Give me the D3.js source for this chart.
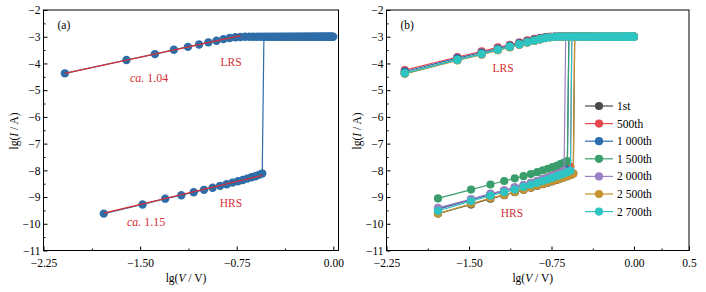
<!DOCTYPE html>
<html lang="en">
<head>
    <meta charset="UTF-8">
    <title>lg I vs lg V</title>
    <script src="https://cdn.jsdelivr.net/npm/d3@7/dist/d3.min.js"></script>
    <style>
        body { margin: 0; background: #fff; }
        text { font-family: "Liberation Serif", "DejaVu Serif", serif; }
        .axis path, .axis line { stroke: #000; }
    </style>
</head>
<body>
    <script>
        // lg V of the high resistance sweep points
        var hrsV = [-1.782, -1.481, -1.305, -1.180, -1.084, -1.004, -0.937, -0.879, -0.828,
                    -0.783, -0.741, -0.703, -0.669, -0.636, -0.606, -0.578, -0.552];

        // lg V of the low resistance sweep points
        var lrsV = [-2.084, -1.606, -1.385, -1.238, -1.129, -1.042, -0.970, -0.907, -0.853, -0.805,
                    -0.761, -0.722, -0.686, -0.652, -0.621, -0.592, -0.565, -0.539, -0.515, -0.493,
                    -0.471, -0.450, -0.430, -0.411, -0.393, -0.376, -0.359, -0.343, -0.328, -0.313,
                    -0.298, -0.284, -0.271, -0.257, -0.245, -0.232, -0.220, -0.208, -0.197, -0.186,
                    -0.175, -0.164, -0.154, -0.144, -0.134, -0.125, -0.115, -0.106, -0.097, -0.088,
                    -0.079, -0.071, -0.062, -0.054, -0.046, -0.038, -0.030, -0.023, -0.015, -0.008, -0.001];

        // compliance level reached by every LRS curve
        var compliance = -3;

        var cycles = ["1st", "500th", "1 000th", "1 500th", "2 000th", "2 500th", "2 700th"];
        var colors = ["#4a4a4a", "#e8474e", "#2c6db2", "#3a9e6c", "#9a80c4", "#c8922e", "#2ec4c2"];

        // lg I of the HRS branch (one value per hrsV point, until the set jump)
        var hrs1st  = [-9.62, -9.28, -9.06, -8.93, -8.82, -8.73, -8.65, -8.58, -8.52, -8.46, -8.41, -8.36, -8.31, -8.26, -8.22, -8.17, -8.12];
        var hrs500  = [-9.45, -9.10, -8.90, -8.77, -8.66, -8.57, -8.48, -8.40, -8.33, -8.26, -8.19, -8.13, -8.07, -8.01, -7.94, -7.87];
        var hrs1000 = [-9.45, -9.10, -8.90, -8.76, -8.65, -8.56, -8.48, -8.41, -8.34, -8.28, -8.22, -8.16, -8.10, -8.04, -7.98];
        var hrs1500 = [-9.05, -8.72, -8.53, -8.40, -8.30, -8.22, -8.14, -8.07, -8.00, -7.94, -7.88, -7.83, -7.77, -7.71, -7.65];
        var hrs2000 = [-9.40, -9.08, -8.87, -8.75, -8.64, -8.55, -8.47, -8.40, -8.33, -8.27, -8.21, -8.15, -8.09, -8.02];
        var hrs2500 = [-9.62, -9.25, -9.04, -8.92, -8.81, -8.72, -8.64, -8.57, -8.51, -8.45, -8.40, -8.35, -8.30, -8.26, -8.22, -8.18, -8.13];
        var hrs2700 = [-9.52, -9.15, -8.95, -8.82, -8.72, -8.62, -8.54, -8.47, -8.40, -8.34, -8.28, -8.22, -8.17, -8.12, -8.07, -8.02];

        // lg I of the rising part of the LRS branch (first lrsV points), then compliance
        var lrs1st  = [-4.37, -3.87, -3.65, -3.49, -3.38, -3.29, -3.21, -3.15, -3.09, -3.05, -3.02, -3.01];
        var lrs500  = [-4.25, -3.76, -3.55, -3.40, -3.30, -3.21, -3.14, -3.08, -3.04, -3.01, -3.00, -3.00];
        var lrs1000 = [-4.30, -3.80, -3.59, -3.44, -3.33, -3.24, -3.17, -3.11, -3.06, -3.02, -3.01, -3.00];
        var lrs1500 = [-4.36, -3.86, -3.64, -3.48, -3.37, -3.28, -3.20, -3.14, -3.08, -3.04, -3.02, -3.01];
        var lrs2000 = [-4.38, -3.88, -3.66, -3.50, -3.39, -3.30, -3.22, -3.16, -3.10, -3.05, -3.02, -3.01];
        var lrs2500 = [-4.39, -3.89, -3.67, -3.51, -3.40, -3.30, -3.22, -3.16, -3.10, -3.05, -3.02, -3.01];
        var lrs2700 = [-4.37, -3.87, -3.65, -3.49, -3.38, -3.29, -3.21, -3.15, -3.09, -3.05, -3.02, -3.01];

        var hrsSets = [hrs1st, hrs500, hrs1000, hrs1500, hrs2000, hrs2500, hrs2700];
        var lrsSets = [lrs1st, lrs500, lrs1000, lrs1500, lrs2000, lrs2500, lrs2700];

        // linear fits drawn on panel (a)
        var fitLrs = [[-2.084, -4.37], [-0.72, -2.96]];
        var fitHrs = [[-1.782, -9.60], [-0.552, -8.19]];

        var yTicks = [-2, -3, -4, -5, -6, -7, -8, -9, -10, -11];
        var yMinor = [-2.5, -3.5, -4.5, -5.5, -6.5, -7.5, -8.5, -9.5, -10.5];
        var xTicksA = [-2.25, -1.5, -0.75, 0];
        var xMinorA = [-1.875, -1.125, -0.375];
        var xTicksB = [-2.25, -1.5, -0.75, 0, 0.5];
        var xMinorB = [-1.875, -1.125, -0.375, 0.25];

        function lrsPoints(rise) {
            return lrsV.map(function (v, i) { return [v, i < rise.length ? rise[i] : compliance]; });
        }
        function hrsPoints(vals) {
            return vals.map(function (v, i) { return [hrsV[i], v]; });
        }

        var svg = d3.select("body").append("svg")
            .attr("width", 706)
            .attr("height", 292);

        var fmt = function (d) {
            var s = (d === 0) ? "0.00" : (Number.isInteger(d) ? String(d) : (d === 0.5 ? "0.5" : d.toFixed(2)));
            return s.replace("-", "\u2212");
        };

        function panel(left, right, xDomain, xTicks, xMinor, tag) {
            var top = 10, bottom = 250.5;
            var x = d3.scaleLinear().domain(xDomain).range([left, right]);
            var y = d3.scaleLinear().domain([-11, -2]).range([bottom, top]);
            var g = svg.append("g");

            g.append("rect")
                .attr("x", left).attr("y", top)
                .attr("width", right - left).attr("height", bottom - top)
                .attr("fill", "none").attr("stroke", "#000").attr("stroke-width", 1);

            g.append("g").attr("class", "axis")
                .attr("transform", "translate(" + left + ",0)")
                .call(d3.axisLeft(y).tickValues(yTicks).tickFormat(fmt).tickSizeInner(-4).tickSizeOuter(0).tickPadding(3))
                .call(s => s.select(".domain").remove())
                .selectAll("text").attr("font-size", 11.5).attr("fill", "#000");
            g.append("g").attr("class", "axis")
                .attr("transform", "translate(" + left + ",0)")
                .call(d3.axisLeft(y).tickValues(yMinor).tickFormat("").tickSizeInner(-2).tickSizeOuter(0))
                .call(s => s.select(".domain").remove());

            g.append("g").attr("class", "axis")
                .attr("transform", "translate(0," + bottom + ")")
                .call(d3.axisBottom(x).tickValues(xTicks).tickFormat(fmt).tickSizeInner(-4).tickSizeOuter(0).tickPadding(8))
                .call(s => s.select(".domain").remove())
                .selectAll("text").attr("font-size", 11.5).attr("fill", "#000");
            g.append("g").attr("class", "axis")
                .attr("transform", "translate(0," + bottom + ")")
                .call(d3.axisBottom(x).tickValues(xMinor).tickFormat("").tickSizeInner(-2).tickSizeOuter(0))
                .call(s => s.select(".domain").remove());

            var xl = g.append("text")
                .attr("x", (left + right) / 2 - 5).attr("y", 282)
                .attr("text-anchor", "middle").attr("font-size", 11.5);
            xl.append("tspan").text("lg(");
            xl.append("tspan").attr("font-style", "italic").text("V");
            xl.append("tspan").text(" / V)");

            var yl = g.append("text")
                .attr("transform", "translate(" + (left - 26) + "," + 131 + ") rotate(-90)")
                .attr("text-anchor", "middle").attr("font-size", 11.5);
            yl.append("tspan").text("lg(");
            yl.append("tspan").attr("font-style", "italic").text("I");
            yl.append("tspan").text(" / A)");

            g.append("text").attr("x", left + 14).attr("y", 29)
                .attr("font-size", 11.5).text(tag);

            return { g: g, x: x, y: y };
        }

        function drawSeries(p, hrs, rise, color, r) {
            var line = d3.line().x(d => p.x(d[0])).y(d => p.y(d[1]));
            var h = hrsPoints(hrs);
            var l = lrsPoints(rise);
            // set jump: last HRS point up to the LRS point at the next voltage step
            var top = [lrsV[h.length], compliance];
            var grp = p.g.append("g");
            grp.append("path").datum(h.concat([top])).attr("d", line)
                .attr("fill", "none").attr("stroke", color).attr("stroke-width", 1.2);
            grp.append("path").datum(l).attr("d", line)
                .attr("fill", "none").attr("stroke", color).attr("stroke-width", 1.2);
            grp.selectAll("circle").data(h.concat(l)).enter().append("circle")
                .attr("cx", d => p.x(d[0])).attr("cy", d => p.y(d[1]))
                .attr("r", r).attr("fill", color);
        }

        var red = "#d62f36";

        // panel (a)
        var pa = panel(43.5, 338.5, [-2.25, 0.04], xTicksA, xMinorA, "(a)");
        drawSeries(pa, hrs1st, lrs1st, "#2e6da8", 4.2);
        var fitLine = d3.line().x(d => pa.x(d[0])).y(d => pa.y(d[1]));
        [fitLrs, fitHrs].forEach(function (f) {
            pa.g.append("path").datum(f).attr("d", fitLine)
                .attr("fill", "none").attr("stroke", red).attr("stroke-width", 1.2);
        });
        pa.g.append("text").attr("x", 231).attr("y", 66).attr("text-anchor", "middle")
            .attr("font-size", 11.5).attr("fill", red).text("LRS");
        pa.g.append("text").attr("x", 231).attr("y", 207).attr("text-anchor", "middle")
            .attr("font-size", 11.5).attr("fill", red).text("HRS");
        var t1 = pa.g.append("text").attr("x", 130).attr("y", 82).attr("font-size", 12).attr("fill", red);
        t1.append("tspan").attr("font-style", "italic").text("ca.");
        t1.append("tspan").text(" 1.04");
        var t2 = pa.g.append("text").attr("x", 127).attr("y", 226).attr("font-size", 12).attr("fill", red);
        t2.append("tspan").attr("font-style", "italic").text("ca.");
        t2.append("tspan").text(" 1.15");

        // panel (b)
        var pb = panel(386.5, 689, [-2.25, 0.5], xTicksB, xMinorB, "(b)");
        cycles.forEach(function (c, i) {
            drawSeries(pb, hrsSets[i], lrsSets[i], colors[i], 4.1);
        });
        pb.g.append("text").attr("x", 503).attr("y", 72).attr("text-anchor", "middle")
            .attr("font-size", 11.5).attr("fill", red).text("LRS");
        pb.g.append("text").attr("x", 512).attr("y", 217).attr("text-anchor", "middle")
            .attr("font-size", 11.5).attr("fill", red).text("HRS");

        // legend
        var leg = pb.g.append("g");
        cycles.forEach(function (c, i) {
            var yy = 106 + i * 17.6;
            leg.append("line").attr("x1", 585).attr("x2", 613).attr("y1", yy).attr("y2", yy)
                .attr("stroke", colors[i]).attr("stroke-width", 1.2);
            leg.append("circle").attr("cx", 599).attr("cy", yy).attr("r", 4.1).attr("fill", colors[i]);
            leg.append("text").attr("x", 617).attr("y", yy + 4).attr("font-size", 11.5).text(c);
        });
    </script>
</body>
</html>
